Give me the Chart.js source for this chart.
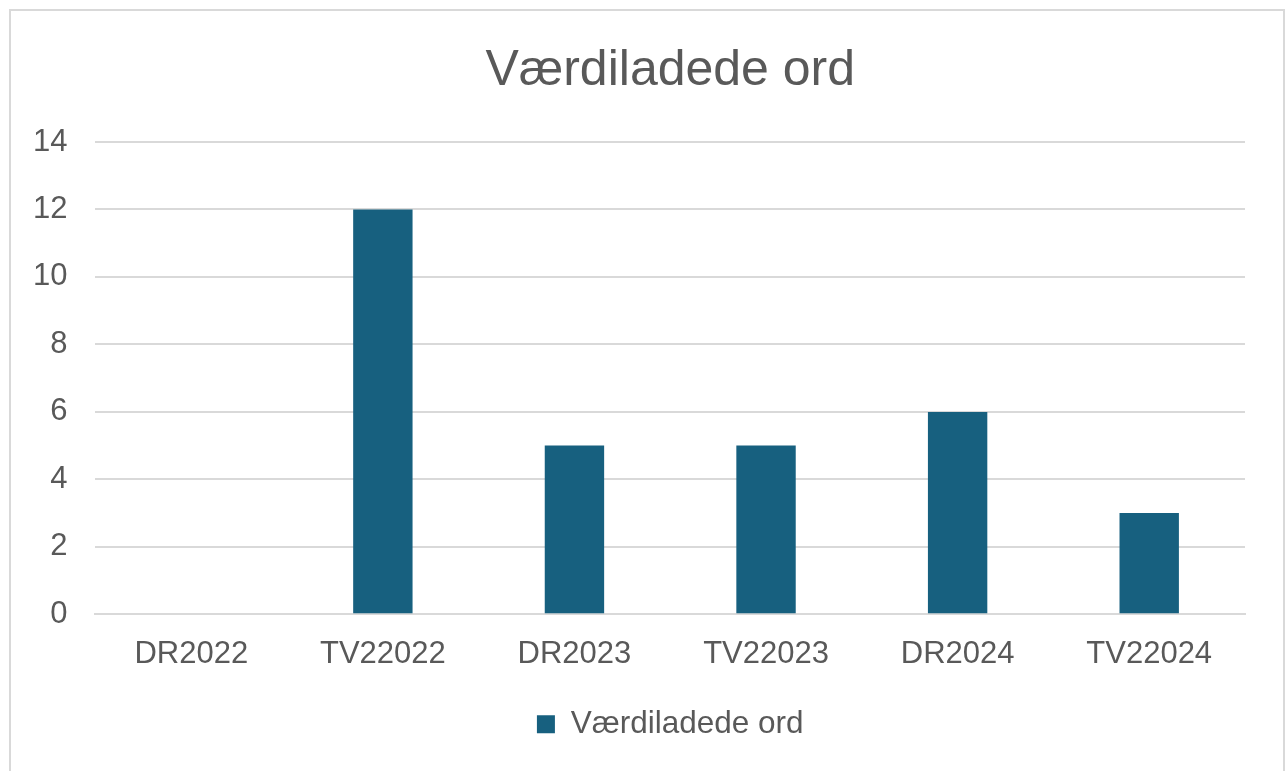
<!DOCTYPE html>
<html>
<head>
<meta charset="utf-8">
<title>Værdiladede ord</title>
<script src="https://cdn.jsdelivr.net/npm/chart.js@4.4.1/dist/chart.umd.min.js"></script>
<style>
    html, body { margin: 0; padding: 0; background: #fff; overflow: hidden; }
    #wrap { position: relative; width: 1285px; height: 771px; }
    #frame {
        position: absolute; left: 9px; top: 9px; width: 1276px; height: 800px;
        border: 2px solid #d9d9d9; box-sizing: border-box; pointer-events: none;
    }
</style>
</head>
<body>
<div id="wrap">
    <canvas id="ordChart" width="1285" height="771"></canvas>
    <div id="frame"></div>
</div>
<script>
var categories = ['DR2022', 'TV22022', 'DR2023', 'TV22023', 'DR2024', 'TV22024'];
var ordValues = [0, 12, 5, 5, 6, 3];
var yTicks = [0, 2, 4, 6, 8, 10, 12, 14];

var textColor = '#595959';
var gridColor = '#d9d9d9';
var barColor = '#17607f';
var fontFamily = '"Liberation Sans", Arial, Helvetica, sans-serif';

// title and legend centred over the plot area, like the original
var centerOnPlot = {
    id: 'centerOnPlot',
    afterLayout: function(chart) {
        var area = chart.chartArea;
        [chart.titleBlock, chart.legend].forEach(function(box) {
            if (!box) return;
            var shift = (area.left + area.right) / 2 - (box.left + box.right) / 2;
            box.left += shift;
            box.right += shift;
        });
    }
};

var ctx = document.getElementById('ordChart').getContext('2d');
var ordChart = new Chart(ctx, {
    type: 'bar',
    data: {
        labels: categories,
        datasets: [{
            label: 'Værdiladede ord',
            data: ordValues,
            backgroundColor: barColor,
            borderWidth: 0,
            barPercentage: 0.31,
            categoryPercentage: 1
        }]
    },
    options: {
        responsive: false,
        animation: false,
        layout: {
            padding: { top: 10, left: 5, right: 40, bottom: 21 }
        },
        plugins: {
            title: {
                display: true,
                text: 'Værdiladede ord',
                color: textColor,
                font: { family: fontFamily, size: 50, weight: 'normal', lineHeight: 1.2 },
                padding: { top: 31, bottom: 41 }
            },
            legend: {
                position: 'bottom',
                labels: {
                    color: textColor,
                    font: { family: fontFamily, size: 31.5 },
                    boxWidth: 18,
                    boxHeight: 18,
                    padding: 13
                }
            },
            tooltip: { enabled: false }
        },
        scales: {
            x: {
                grid: { display: false, drawTicks: false },
                border: { display: true, color: gridColor, width: 2 },
                ticks: {
                    color: textColor,
                    font: { family: fontFamily, size: 31 },
                    padding: 22,
                    maxRotation: 0
                }
            },
            y: {
                min: yTicks[0],
                max: yTicks[yTicks.length - 1],
                afterBuildTicks: function(axis) {
                    axis.ticks = yTicks.map(function(v) { return { value: v }; });
                },
                grid: { color: gridColor, lineWidth: 2, drawTicks: false },
                border: { display: false },
                ticks: {
                    color: textColor,
                    font: { family: fontFamily, size: 31 },
                    padding: 28
                }
            }
        }
    },
    plugins: [centerOnPlot]
});
</script>
</body>
</html>
